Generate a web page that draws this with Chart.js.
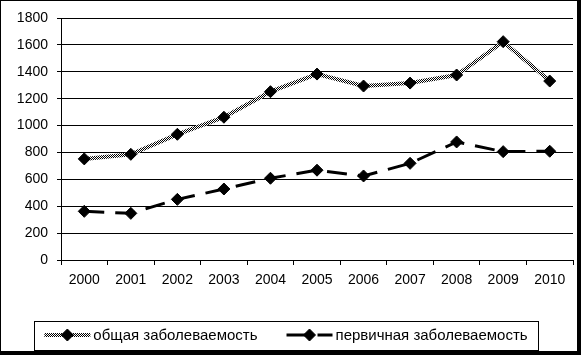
<!DOCTYPE html>
<html>
<head>
<meta charset="utf-8">
<script src="https://cdn.jsdelivr.net/npm/chart.js@4"></script>
<style>
  html, body { margin:0; padding:0; background:#fff; }
  #wrap { width:581px; height:359px; }
</style>
</head>
<body>
<div id="wrap"><canvas id="chart" width="581" height="359"></canvas></div>
<script>
const years = ['2000','2001','2002','2003','2004','2005','2006','2007','2008','2009','2010'];
const totalCases = [752, 786, 935, 1062, 1252, 1383, 1294, 1316, 1376, 1624, 1331];
const newCases = [362, 347, 451, 528, 608, 668, 625, 719, 878, 806, 809];
const yTicks = [0, 200, 400, 600, 800, 1000, 1200, 1400, 1600, 1800];
const seriesNames = ['общая заболеваемость', 'первичная заболеваемость'];

const canvas = document.getElementById('chart');
const ctx = canvas.getContext('2d');

// checker pattern for the grey "hatched" line
const pc = document.createElement('canvas');
pc.width = 2; pc.height = 2;
const pctx = pc.getContext('2d');
pctx.fillStyle = '#fff'; pctx.fillRect(0, 0, 2, 2);
pctx.fillStyle = '#000'; pctx.fillRect(0, 0, 1, 1); pctx.fillRect(1, 1, 1, 1);
const hatch = ctx.createPattern(pc, 'repeat');

Chart.defaults.font.family = '"Liberation Sans", Arial, sans-serif';
Chart.defaults.font.size = 14;
Chart.defaults.color = '#000';

// outer frame with a heavy right/bottom edge
const framePlugin = {
  id: 'frame',
  beforeDraw(chart) {
    const c = chart.ctx;
    c.save();
    c.fillStyle = '#fff';
    c.fillRect(0, 0, chart.width, chart.height);
    c.fillStyle = '#000';
    c.fillRect(0, 0, 577, 1);
    c.fillRect(0, 0, 1, 355);
    c.fillRect(577, 0, 4, 355);
    c.fillRect(0, 351, 581, 4);
    c.restore();
  }
};

// boxed legend with line samples
const legendPlugin = {
  id: 'boxLegend',
  afterDraw(chart) {
    const c = chart.ctx;
    const box = {x: 34, y: 321, w: 504, h: 29};
    c.save();
    c.strokeStyle = '#000';
    c.lineWidth = 1;
    c.setLineDash([]);
    c.strokeRect(box.x + 0.5, box.y + 0.5, box.w, box.h);
    c.font = '15px "Liberation Sans", Arial, sans-serif';
    c.textBaseline = 'middle';
    c.fillStyle = '#000';
    const cy = box.y + 14;
    const sampleW = 46, textGap = 3, itemGap = 29;
    const widths = chart.data.datasets.map(ds => sampleW + textGap + c.measureText(ds.label).width);
    const total = widths.reduce((a, b) => a + b, 0) + itemGap * (widths.length - 1);
    let x = box.x + (box.w - total) / 2;
    chart.data.datasets.forEach((ds, i) => {
      c.save();
      c.strokeStyle = ds.borderColor;
      c.lineWidth = ds.borderWidth;
      c.setLineDash(ds.borderDash || []);
      c.beginPath();
      c.moveTo(x, cy);
      c.lineTo(x + sampleW, cy);
      c.stroke();
      c.restore();
      c.save();
      c.fillStyle = '#000';
      c.strokeStyle = '#000';
      c.lineWidth = 1;
      Chart.helpers.drawPoint(c, {pointStyle: 'rectRot', radius: 6, rotation: 0, borderWidth: 1}, x + sampleW / 2, cy);
      c.restore();
      c.fillText(ds.label, x + sampleW + textGap, cy + 1);
      x += widths[i] + itemGap;
    });
    c.restore();
  }
};

new Chart(ctx, {
  type: 'line',
  data: {
    labels: years,
    datasets: [
      {label: seriesNames[0], data: totalCases, borderColor: hatch, borderWidth: 4,
       pointStyle: 'rectRot', pointRadius: 6, pointBackgroundColor: '#000', pointBorderColor: '#000', pointBorderWidth: 1, tension: 0},
      {label: seriesNames[1], data: newCases, borderColor: '#000', borderWidth: 3, borderDash: [20, 11],
       pointStyle: 'rectRot', pointRadius: 6, pointBackgroundColor: '#000', pointBorderColor: '#000', pointBorderWidth: 1, tension: 0}
    ]
  },
  options: {
    responsive: false,
    animation: false,
    devicePixelRatio: 1,
    events: [],
    layout: {padding: {left: 0, right: 8, top: 18, bottom: 0}},
    plugins: {legend: {display: false}, tooltip: {enabled: false}},
    scales: {
      x: {
        type: 'category',
        offset: true,
        grid: {display: true, drawOnChartArea: false, drawTicks: true, tickLength: 5, color: '#000', offset: true},
        border: {display: true, color: '#000'},
        ticks: {padding: 7, maxRotation: 0, autoSkip: false},
        afterFit(s) { s.height = 99; }
      },
      y: {
        min: 0, max: 1800,
        afterBuildTicks(s) { s.ticks = yTicks.map(v => ({value: v})); },
        grid: {color: '#000', tickLength: 4, drawTicks: true},
        border: {display: true, color: '#000'},
        ticks: {padding: 9, callback: v => String(v)},
        afterFit(s) { s.width = 61; }
      }
    }
  },
  plugins: [framePlugin, legendPlugin]
});
</script>
</body>
</html>
